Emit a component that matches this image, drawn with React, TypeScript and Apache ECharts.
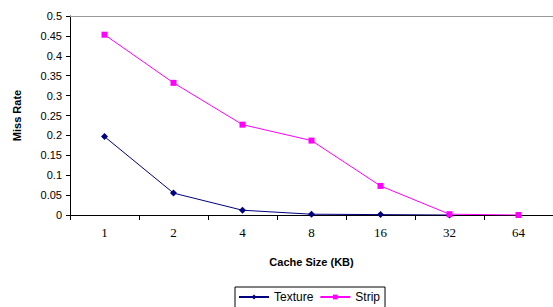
import React, { useEffect, useRef } from "react";
import * as echarts from "echarts";

const categories = ["1", "2", "4", "8", "16", "32", "64"];
const textureValues = [0.197, 0.055, 0.012, 0.002, 0.001, 0.0];
const stripValues = [0.453, 0.332, 0.227, 0.187, 0.073, 0.002, 0.0];
const yMax = 0.5;
const yStep = 0.05;

export default function App() {
  const ref = useRef<HTMLDivElement>(null);
  useEffect(() => {
    if (!ref.current) return;
    const chart = echarts.init(ref.current, null, { renderer: "svg" });
    chart.setOption({
      animation: false,
      backgroundColor: "#ffffff",
      grid: { left: 70, right: 0, top: 16, bottom: 92, containLabel: false },
      legend: {
        bottom: -4,
        left: 235,
        itemWidth: 30,
        itemHeight: 6,
        itemGap: 6,
        padding: [4, 5, 8, 3],
        borderColor: "#000",
        borderWidth: 1,
        textStyle: { fontFamily: "Liberation Sans, Arial, sans-serif", fontSize: 12, color: "#000" },
        data: ["Texture", "Strip"],
      },
      xAxis: {
        type: "category",
        data: categories,
        boundaryGap: true,
        name: "Cache Size (KB)",
        nameLocation: "middle",
        nameGap: 41,
        nameTextStyle: { fontFamily: "Liberation Sans, Arial, sans-serif", fontSize: 11, fontWeight: "bold", color: "#000" },
        axisLine: { lineStyle: { color: "#000", width: 1 } },
        axisTick: { show: true, alignWithLabel: false, length: 5, inside: false, lineStyle: { color: "#000" } },
        axisLabel: { fontFamily: "Liberation Serif, Times New Roman, serif", fontSize: 13, color: "#000", margin: 11 },
        splitLine: { show: false },
      },
      yAxis: {
        type: "value",
        min: 0,
        max: yMax,
        interval: yStep,
        name: "Miss Rate",
        nameLocation: "middle",
        nameGap: 48,
        nameRotate: 90,
        nameTextStyle: { fontFamily: "Liberation Sans, Arial, sans-serif", fontSize: 11, fontWeight: "bold", color: "#000" },
        axisLine: { show: true, lineStyle: { color: "#000", width: 1 } },
        axisTick: { show: true, length: 4, lineStyle: { color: "#000" } },
        axisLabel: { fontFamily: "Liberation Sans, Arial, sans-serif", fontSize: 11, color: "#000", margin: 8 },
        splitLine: { show: false },
      },
      series: [
        {
          name: "Texture",
          type: "line",
          data: textureValues,
          symbol: "diamond",
          symbolSize: 7,
          itemStyle: { color: "#000080" },
          lineStyle: { color: "#000080", width: 1 },
          z: 2,
          markLine: {
            silent: true,
            symbol: "none",
            label: { show: false },
            lineStyle: { color: "#999999", width: 1, type: "solid" },
            data: [{ yAxis: yMax }],
          },
        },
        {
          name: "Strip",
          type: "line",
          data: stripValues,
          symbol: "rect",
          symbolSize: 6,
          itemStyle: { color: "#ff00ff" },
          lineStyle: { color: "#ff00ff", width: 1 },
          z: 3,
        },
      ],
    });
    return () => chart.dispose();
  }, []);
  return <div ref={ref} style={{ width: 553, height: 307, position: "absolute", left: 0, top: 0 }} />;
}
